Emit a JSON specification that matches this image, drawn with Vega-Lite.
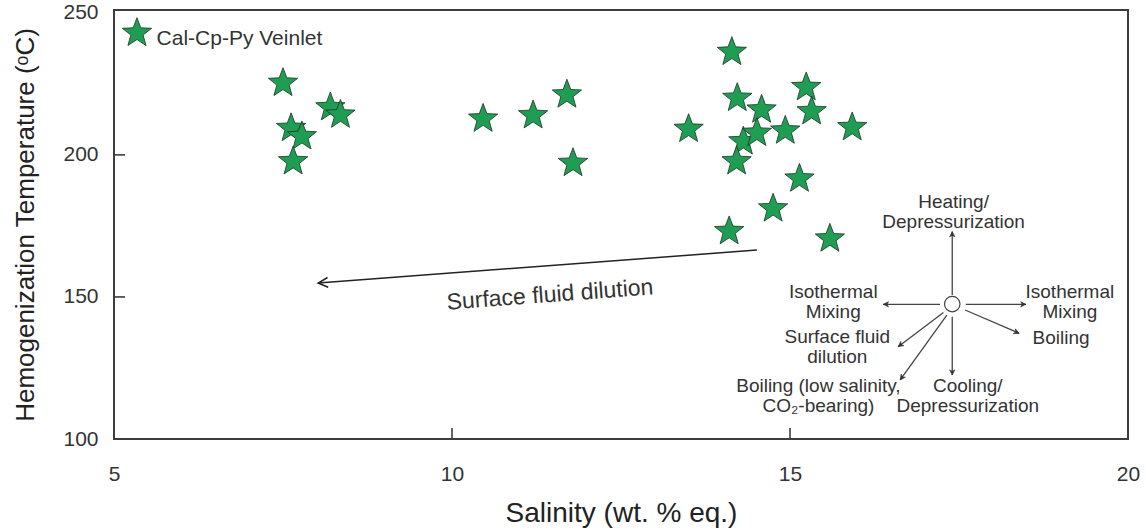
{
  "$schema": "https://vega.github.io/schema/vega-lite/v6.json",
  "width": 1014,
  "height": 429,
  "autosize": {"type": "none"},
  "padding": {"left": 114, "top": 10, "right": 18, "bottom": 92},
  "background": "white",
  "config": {
    "view": {"stroke": "#3d3d3d", "strokeWidth": 2},
    "font": "Liberation Sans",
    "axis": {"grid": false, "domain": false, "ticks": false, "labelFont": "Liberation Sans", "titleFont": "Liberation Sans", "labelColor": "#333333", "titleColor": "#222222", "titleFontWeight": "normal", "labelFlush": false, "labelOverlap": false, "labelFontSize": 21},
    "axisX": {"labelPadding": 24, "titleFontSize": 28, "titlePadding": 15},
    "axisY": {"labelPadding": 16, "titleFontSize": 26, "titlePadding": 24}
  },
  "datasets": {
    "stars": [
      {"salinity": 7.50, "th": 225.8},
      {"salinity": 7.62, "th": 209.9},
      {"salinity": 7.78, "th": 207.0},
      {"salinity": 7.65, "th": 198.2},
      {"salinity": 8.20, "th": 217.2},
      {"salinity": 8.35, "th": 214.6},
      {"salinity": 10.46, "th": 213.2},
      {"salinity": 11.20, "th": 214.4},
      {"salinity": 11.70, "th": 221.7},
      {"salinity": 11.79, "th": 197.6},
      {"salinity": 13.50, "th": 209.6},
      {"salinity": 14.14, "th": 236.7},
      {"salinity": 14.22, "th": 220.5},
      {"salinity": 14.58, "th": 216.4},
      {"salinity": 15.24, "th": 224.3},
      {"salinity": 15.32, "th": 215.8},
      {"salinity": 14.93, "th": 209.0},
      {"salinity": 15.92, "th": 210.2},
      {"salinity": 14.31, "th": 205.2},
      {"salinity": 14.51, "th": 208.2},
      {"salinity": 14.21, "th": 198.2},
      {"salinity": 15.14, "th": 192.1},
      {"salinity": 14.75, "th": 181.6},
      {"salinity": 14.10, "th": 173.6},
      {"salinity": 15.59, "th": 171.0}
    ],
    "legend": [{"salinity": 5.34, "th": 243.4, "lx": 5.63, "ly": 240.8, "name": "Cal-Cp-Py Veinlet"}],
    "xticks": [{"v": 10}, {"v": 15}],
    "yticks": [{"v": 150}, {"v": 200}],
    "mainArrow": [{"x1": 14.51, "y1": 166.5, "x2": 8.02, "y2": 154.9, "h": 266}],
    "arrows": [
      {"x1": 17.40, "y1": 150.7, "x2": 17.40, "y2": 173.0, "h": 0},
      {"x1": 17.22, "y1": 147.4, "x2": 16.38, "y2": 147.4, "h": 270},
      {"x1": 17.60, "y1": 147.4, "x2": 18.49, "y2": 147.4, "h": 90},
      {"x1": 17.59, "y1": 145.4, "x2": 18.39, "y2": 137.2, "h": 113},
      {"x1": 17.40, "y1": 143.0, "x2": 17.40, "y2": 122.5, "h": 180},
      {"x1": 17.27, "y1": 144.5, "x2": 16.60, "y2": 132.5, "h": 233},
      {"x1": 17.32, "y1": 143.6, "x2": 16.63, "y2": 120.8, "h": 216}
    ],
    "origin": [{"x": 17.40, "y": 147.5}],
    "labels": [
      {"x": 17.42, "y": 183.5, "t": "Heating/\nDepressurization"},
      {"x": 15.64, "y": 151.9, "t": "Isothermal\nMixing"},
      {"x": 19.14, "y": 151.9, "t": "Isothermal\nMixing"},
      {"x": 19.01, "y": 135.7, "t": "Boiling"},
      {"x": 15.70, "y": 136.0, "t": "Surface fluid\ndilution"},
      {"x": 15.42, "y": 118.8, "t": "Boiling (low salinity,\nCO₂-bearing)"},
      {"x": 17.63, "y": 118.8, "t": "Cooling/\nDepressurization"}
    ],
    "dilution": [{"x": 11.45, "y": 150.7, "t": "Surface fluid dilution"}]
  },
  "layer": [
    {
      "data": {"name": "stars"},
      "mark": {"type": "point", "shape": "M0,-0.905L0.247,-0.245L0.951,-0.214L0.399,0.225L0.588,0.904L0,0.515L-0.588,0.904L-0.399,0.225L-0.951,-0.214L-0.247,-0.245Z", "size": 950, "filled": true, "fill": "#1f9d52", "stroke": "#1c3324", "strokeWidth": 0.8, "opacity": 1},
      "encoding": {
        "x": {"field": "salinity", "type": "quantitative", "scale": {"domain": [5, 20], "nice": false, "zero": false},
              "axis": {"values": [5, 10, 15, 20], "format": "d", "labelFontSize": 21, "title": "Salinity (wt. % eq.)"}},
        "y": {"field": "th", "type": "quantitative", "scale": {"domain": [100, 251], "nice": false, "zero": false},
              "axis": {"values": [100, 150, 200, 250], "format": "d", "labelFontSize": 21, "title": "Hemogenization Temperature (ᵒC)"}}
      }
    },
    {
      "data": {"name": "xticks"},
      "mark": {"type": "rule", "stroke": "#3d3d3d", "strokeWidth": 1.6},
      "encoding": {
        "x": {"field": "v", "type": "quantitative"},
        "y": {"datum": 100, "type": "quantitative"},
        "y2": {"datum": 103.9}
      }
    },
    {
      "data": {"name": "yticks"},
      "mark": {"type": "rule", "stroke": "#3d3d3d", "strokeWidth": 1.6},
      "encoding": {
        "y": {"field": "v", "type": "quantitative"},
        "x": {"datum": 5, "type": "quantitative"},
        "x2": {"datum": 5.163}
      }
    },
    {
      "data": {"name": "mainArrow"},
      "mark": {"type": "rule", "stroke": "#222222", "strokeWidth": 1.5},
      "encoding": {
        "x": {"field": "x1", "type": "quantitative"},
        "y": {"field": "y1", "type": "quantitative"},
        "x2": {"field": "x2"},
        "y2": {"field": "y2"}
      }
    },
    {
      "data": {"name": "mainArrow"},
      "mark": {"type": "point", "shape": "M-0.5,1L0,0L0.5,1", "size": 380, "filled": false, "stroke": "#222222", "strokeWidth": 1.5, "opacity": 1},
      "encoding": {
        "x": {"field": "x2", "type": "quantitative"},
        "y": {"field": "y2", "type": "quantitative"},
        "angle": {"field": "h", "type": "quantitative", "scale": null}
      }
    },
    {
      "data": {"name": "dilution"},
      "mark": {"type": "text", "angle": 355.7, "fontSize": 23, "color": "#333333", "align": "center", "baseline": "middle"},
      "encoding": {
        "x": {"field": "x", "type": "quantitative"},
        "y": {"field": "y", "type": "quantitative"},
        "text": {"field": "t"}
      }
    },
    {
      "data": {"name": "arrows"},
      "mark": {"type": "rule", "stroke": "#444444", "strokeWidth": 1.3},
      "encoding": {
        "x": {"field": "x1", "type": "quantitative"},
        "y": {"field": "y1", "type": "quantitative"},
        "x2": {"field": "x2"},
        "y2": {"field": "y2"}
      }
    },
    {
      "data": {"name": "arrows"},
      "mark": {"type": "point", "shape": "M-0.5,1L0,0L0.5,1L0,0.7Z", "size": 110, "filled": true, "fill": "#333333", "stroke": "#333333", "strokeWidth": 0.6, "opacity": 1},
      "encoding": {
        "x": {"field": "x2", "type": "quantitative"},
        "y": {"field": "y2", "type": "quantitative"},
        "angle": {"field": "h", "type": "quantitative", "scale": null}
      }
    },
    {
      "data": {"name": "origin"},
      "mark": {"type": "point", "shape": "circle", "size": 240, "filled": true, "fill": "white", "stroke": "#444444", "strokeWidth": 1.2, "opacity": 1},
      "encoding": {
        "x": {"field": "x", "type": "quantitative"},
        "y": {"field": "y", "type": "quantitative"}
      }
    },
    {
      "data": {"name": "labels"},
      "mark": {"type": "text", "fontSize": 19, "lineHeight": 20, "lineBreak": "\n", "color": "#333333", "align": "center", "baseline": "middle"},
      "encoding": {
        "x": {"field": "x", "type": "quantitative"},
        "y": {"field": "y", "type": "quantitative"},
        "text": {"field": "t"}
      }
    },
    {
      "data": {"name": "legend"},
      "mark": {"type": "point", "shape": "M0,-0.905L0.247,-0.245L0.951,-0.214L0.399,0.225L0.588,0.904L0,0.515L-0.588,0.904L-0.399,0.225L-0.951,-0.214L-0.247,-0.245Z", "size": 950, "filled": true, "fill": "#1f9d52", "stroke": "#1c3324", "strokeWidth": 0.8, "opacity": 1},
      "encoding": {
        "x": {"field": "salinity", "type": "quantitative"},
        "y": {"field": "th", "type": "quantitative"}
      }
    },
    {
      "data": {"name": "legend"},
      "mark": {"type": "text", "fontSize": 21, "color": "#333333", "align": "left", "baseline": "middle"},
      "encoding": {
        "x": {"field": "lx", "type": "quantitative"},
        "y": {"field": "ly", "type": "quantitative"},
        "text": {"field": "name"}
      }
    }
  ]
}
